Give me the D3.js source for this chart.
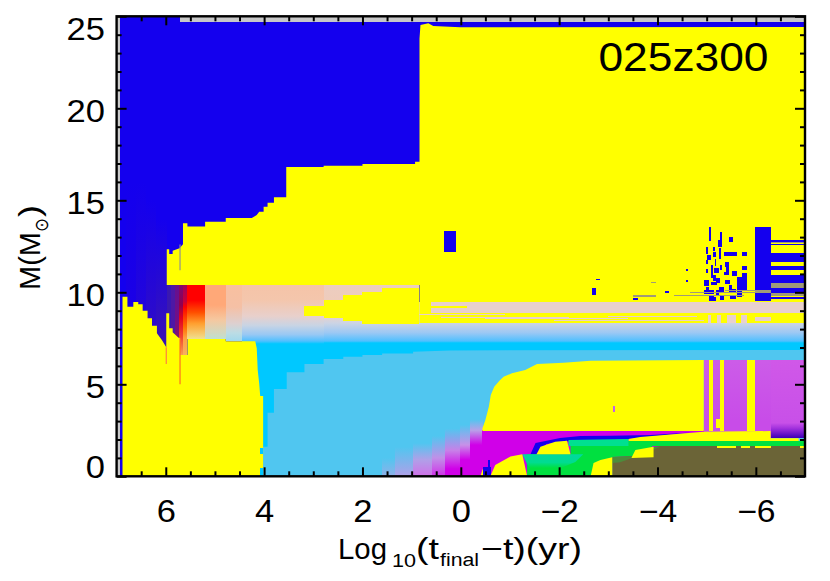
<!DOCTYPE html>
<html><head><meta charset="utf-8">
<script src="https://cdn.jsdelivr.net/npm/d3@7/dist/d3.min.js"></script>
<style>html,body{margin:0;padding:0;background:#fff}svg{display:block}text{font-family:"Liberation Sans",Arial,sans-serif;fill:#000}</style>
</head><body><svg id="c" width="830" height="581"></svg>
<script>
const xDomain=[7,-7], yDomain=[0,25];
const xMajor=[6,4,2,0,-2,-4,-6];
const xMinor=[6.5,5.5,5,4.5,3.5,3,2.5,1.5,1,0.5,-0.5,-1,-1.5,-2.5,-3,-3.5,-4.5,-5,-5.5,-6.5];
const yMajor=[0,5,10,15,20,25];
const yMinor=[1,2,3,4,6,7,8,9,11,12,13,14,16,17,18,19,21,22,23,24];
const runLabel="025z300";
const BLUE="#1400EE",YEL="#FFFF00",LB="#50C6F0",CY="#00C8FF",MAG="#D000E8",BRN="#6B6437",GRN="#00E040",TEAL="#00E090",GRY="#A09A78",PNK="#E8D0CC",PUR="#D058E8";

// vertical colour profiles: [xLeft,xRight,[[mass,colour],...]]
const envelopeCols=[
 [6.8,6.6,[[16,BLUE],[8,"#1C00E4"]]],[6.6,6.4,[[16,BLUE],[8,"#2406D8"]]],
 [6.4,6.2,[[15,BLUE],[8,"#2E0CC8"]]],[6.2,5.98,[[14,BLUE],[7,"#3A14B4"]]]];
const bandCols=[
 [5.98,5.9,[[10.4,"#3A18B0"],[7,"#3A18B0"]]],[5.9,5.82,[[10.4,"#4D18A5"],[7,"#4D18A5"]]],
 [5.82,5.74,[[10.4,"#651090"],[8.6,"#701088"],[7,"#901060"]]],
 [5.74,5.65,[[10.4,"#800870"],[9.3,"#900050"],[8.6,"#E00020"],[7.6,"#F04030"],[6.59,"#F8A050"]]],
 [5.65,5.56,[[10.4,"#A0005A"],[9.5,"#C80038"],[9.2,"#FF0000"],[8.1,"#FF7000"],[7.5,"#FFA040"],[6.59,"#F8B060"]]],
 [5.56,5.2,[[10.4,"#FF0000"],[9.58,"#FF0000"],[8.9,"#FF5000"],[8.3,"#FFA030"],[7.46,"#F0E090"]]],
 [5.2,4.78,[[10.4,"#FFA878"],[9.3,"#FFA878"],[8.5,"#F5C8A0"],[7.46,"#C0E0D0"]]],
 [4.78,4.45,[[10.4,"#F8C0A0"],[9.2,"#F5C0A5"],[8.3,"#DDD0D0"],[7.8,"#BCDCE4"],[7.33,"#A0D8EC"]]],
 [4.45,2.79,[[10.4,"#F5C4A8"],[9.6,"#F4C6AC"],[8.7,"#E8D0CC"],[8.2,"#C8D4E4"],[7.7,"#98C8F4"],[7.35,"#50C0FF"],[7.2,CY],[6.8,CY]]],
 [2.79,0.84,[[10.4,"#ECCDC0"],[9.6,"#EECCBC"],[8.7,"#E8D0CC"],[8.33,"#CCD4E4"],[7.8,"#9CC8F4"],[7.35,"#50C0FF"],[7.25,CY],[6.8,CY]]],
 [0.84,-7,[[9.5,PNK],[8.33,"#CCD4E4"],[7.8,"#9CC8F4"],[7.35,"#50C0FF"],[7.25,CY],[6.8,CY]]]];
const lilacCols=[
 [1.6,1.33,[[1,LB],[0,"#90B0E8"]]],[1.33,0.97,[[1.6,LB],[0,"#B0A0E8"]]],
 [0.97,0.58,[[1.8,LB],[0.9,"#B0A0E8"],[0,"#D070E8"]]],[0.58,0.32,[[2.2,LB],[1,"#C090E8"],[0,"#D030E8"]]],
 [0.32,0.01,[[2.6,LB],[1.4,"#C880E8"],[0.4,MAG],[0,MAG]]],[0.01,-0.19,[[2.8,LB],[1.7,"#C890E8"],[0.9,MAG],[0,MAG]]],
 [-0.19,-0.46,[[3.1,LB],[2.5,"#B8A0E8"],[1.7,MAG],[0,MAG]]]];
const purpleCols=[
 [-4.94,-6.3,[[6.32,"#CC5CE8"],[3,"#C84CE8"],[1.9,"#C84CE8"]]],
 [-6.3,-7,[[6.32,PUR],[2.9,"#C850E8"],[2.6,"#A030DC"],[2.1,"#4000B8"]]]];

// region outlines as [time,mass]
const upperYellow=[[5.98,10.4],[5.98,12.34],[5.93,12.34],[5.93,12.08],[5.86,12.08],[5.86,12.26],[5.72,12.39],[5.65,12.61],[5.65,13.75],[5.56,13.75],[5.56,13.57],[5.2,13.57],[5.2,13.84],[4.78,13.84],[4.78,14.04],[4.25,14.04],[4.15,14.2],[4.1,14.38],[4.01,14.38],[4.01,14.65],[3.93,14.65],[3.93,14.87],[3.8,14.87],[3.8,15.16],[3.55,15.16],[3.55,16.81],[2.79,16.81],[2.79,16.88],[2,16.88],[2,16.97],[0.93,16.97],[0.93,17.1],[0.84,17.1],[0.84,23.8],[0.82,24.53],[0.66,24.62],[0.56,24.47],[0.01,24.4],[-7,24.42],[-7,8.33],[0.84,8.33],[0.84,10.4]];
const lowerYellow=[[6.88,0],[6.88,9.76],[6.78,9.76],[6.78,9.22],[6.66,9.22],[6.66,9.47],[6.56,9.47],[6.56,9.35],[6.47,9.35],[6.47,9],[6.37,9],[6.37,8.59],[6.28,8.59],[6.28,8.18],[6.18,8.18],[6.18,7.77],[6.08,7.41],[5.99,7.01],[5.99,8.86],[5.93,8.86],[5.93,8.04],[5.86,8.04],[5.86,7.83],[5.74,7.53],[5.71,7.5],[5.71,6.59],[5.56,6.59],[5.56,7.46],[4.78,7.46],[4.78,7.34],[4.18,7.34],[4.15,6.96],[4.13,5.78],[4.1,5.05],[4.08,4.36],[4.02,4.36],[4.02,0]];
const lightBlue=[[4.02,0],[4.02,1.61],[3.93,1.61],[3.93,3.46],[3.8,3.46],[3.8,4.74],[3.54,4.74],[3.54,5.65],[3.18,5.65],[3.18,6.1],[2.79,6.1],[2.79,6.38],[2.39,6.38],[2.39,6.5],[2,6.5],[2,6.59],[1.6,6.59],[1.6,6.68],[0.97,6.68],[0.97,6.77],[0.21,6.84],[-7,6.87],[-7,0]];
const bigYellow=[[-0.44,2.46],[-0.44,2.61],[-0.5,3.06],[-0.57,3.78],[-0.61,4.42],[-0.68,4.87],[-0.79,5.2],[-0.87,5.41],[-1.04,5.6],[-1.31,5.78],[-1.55,6.1],[-2.09,6.17],[-2.64,6.28],[-4.94,6.32],[-4.94,2.46]];
const blueRibbon=[[-1.41,1.16],[-1.52,1.81],[-1.62,1.86],[-2.02,2.08],[-2.43,2.19],[-3.04,2.21],[-3.86,2.24],[-4.67,2.38],[-3.41,2.03],[-2.84,1.92],[-2.23,1.92],[-1.74,1.76],[-1.56,1.2]];
const greenMain=[[-1.34,1.2],[-2.23,1.2],[-2.23,1.65],[-3.89,1.65],[-3.89,1.59],[-3.51,1.1],[-3.08,1.05],[-3.08,0],[-1.35,0]];
const tealUnderHump=[[-1.25,1.2],[-2.49,1.2],[-2.33,0.78],[-2.03,0.45],[-1.39,0.45]];
const tealTop=[[-2.19,1.97],[-3.41,2.03],[-3.41,1.65],[-2.19,1.65]];
const brown=[[-3.08,0],[-3.08,1.05],[-3.51,1.1],[-3.89,1.59],[-4.06,1.65],[-7,1.65],[-7,0]];
const mossEdge=[[-3.08,1.05],[-3.51,1.1],[-3.87,1.59],[-4.06,1.61],[-3.65,1.15],[-3.24,0.77],[-3.08,0.72]];
const yellowBelt=[[-3.41,2.03],[-3.65,2.14],[-4.94,2.42],[-6.3,2.46],[-6.3,2.07],[-6.87,2.07],[-6.87,1.92],[-3.41,1.92]];
const hump1=[[-1.54,1.2],[-1.62,1.61],[-1.92,1.88],[-2.16,1.93],[-2.23,1.2]];
const hump2=[[-0.6,0],[-0.7,0.61],[-1.01,1.07],[-1.25,1.2],[-1.35,0]];
const hump3=[[-2.64,0],[-2.7,0.72],[-2.84,0.89],[-3.08,1.03],[-3.08,0]];
const hump4=[[-3.47,0.99],[-3.55,1.43],[-3.92,1.61],[-3.92,1.03]];
const sliver=[[-0.4,0],[-0.44,0.35],[-0.48,0.45],[-0.48,0]];

// solid blocks [xLeft,xRight,massTop,massBottom]
const wedgeYellow=[[3.18,2.79,9.26,8.73],[2.79,2.39,9.58,8.62],[2.39,2,9.85,8.46],[2,1.6,10.03,8.28],[1.6,0.84,10.23,8.28]];
const pinkStreaks=[[0.6,-7,9.49,9.25],[-0.13,-7,9.25,8.9],[0.6,-0.13,9.12,8.9],[0.84,-0.9,8.8,8.74],[0.4,-2.2,8.66,8.6],[-0.5,-3.4,8.6,8.54],[-1.9,-4.95,8.52,8.44],[-3,-4.8,8.72,8.66],[-5.99,-6.3,8.66,8.44],[-5.02,-5.09,8.77,8.33],[-5.22,-5.29,8.77,8.33],[-5.42,-5.59,8.77,8.33],[-5.69,-5.82,8.77,8.33]];
const yellowStripes=[[-5.04,-5.13,6.32,2.46],[-5.27,-5.35,6.32,2.46],[-5.82,-5.99,6.32,2.46],[-5.2,-5.27,3.1,2.6]];
const beltEdge=[[-5.22,-5.59,1.65,1.55],[-5.69,-5.89,1.65,1.55],[-5.99,-6.3,1.65,1.55],[-6.9,-7,1.65,1.55]];
const cyanBits=[[4.08,4.02,1.55,1.21],[4.08,4.02,0.45,0]];
const magentaFloor=[[-0.44,-4.94,2.5,0]];
const blueBlocks=[[0.35,0.1,13.33,12.17],[-5.99,-6.3,13.57,9.54],[-6.3,-7,12.84,12.76],[-6.3,-7,12.63,12.57],[-6.3,-7,12.15,11.66],[-6.3,-7,11.45,11.21],[-6.3,-7,10.94,10.5],[-6.3,-7,10.23,9.98],[-6.3,-7,9.74,9.66],
 [-0.46,-0.62,0.5,0],[-0.56,-0.6,0.89,0.5],
 [-5.04,-5.08,13.53,12.8],[-5.28,-5.31,13.29,12.48],[-5.46,-5.53,13.02,12.73],[-5.23,-5.28,12.84,12.48],[-5.35,-5.61,12.21,11.97],[-5.71,-5.83,12.17,11.95],[-4.98,-5.02,12.44,12.08],[-5.13,-5.17,12.44,12.26],[-5.25,-5.3,12.39,11.79],[-4.98,-5.02,11.75,11.54],[-5.13,-5.18,12.21,11.93],[-5.17,-5.2,11.79,11.43],[-5.38,-5.46,11.66,11.39],[-5.71,-5.83,11.44,11.21],[-5.28,-5.32,11.48,11.21],[-5.08,-5.12,11.48,10.76],[-5.4,-5.46,11.35,11.03],[-5.52,-5.61,11.17,10.9],[-5.71,-5.83,11.03,10.12],[-5.61,-5.71,10.85,9.76],[-4.94,-5.04,10.67,10.34],[-5.13,-5.18,10.94,10.63],[-5.2,-5.28,10.76,10.52],[-5.38,-5.48,10.67,10.45],[-4.16,-4.24,10.07,9.94],[-4.59,-4.63,11.25,11.14],[-4.59,-4.63,10.67,10.56],[-4.98,-5.02,11.25,11.03],[-4.94,-5.15,10.12,9.9],[-5.04,-5.15,9.8,9.54],[-5.25,-5.35,10.27,9.94],[-5.27,-5.35,9.85,9.58],[-5.45,-5.59,10.16,9.94],
 [-4.98,-5.04,10.27,10.03],[-5.08,-5.21,10.57,10.39],[-5.18,-5.25,10.12,9.85],[-5.35,-5.45,11.12,10.94],[-5.45,-5.52,10.39,10.12],[-5.01,-5.08,12.02,11.75],[-5.15,-5.25,11.3,11.03],[-5.48,-5.59,9.85,9.62],[-5.11,-5.18,9.72,9.54],
 [-2.74,-2.84,10.72,10.65],[-2.66,-2.75,10.22,9.85],[-3.65,-3.96,9.82,9.76],[-3.5,-3.6,9.69,9.58]];
const greyStreaks=[[-4.33,-5.76,9.85,9.78],[-4.67,-5.99,10,9.95],[-5.38,-5.99,10.12,10.05],[-5.99,-6.3,10.12,9.98],[-6.3,-7,12.76,12.68],[-6.3,-7,10.5,10.23],[-6.3,-7,9.98,9.8],[-3.86,-3.96,10.58,10.49],[-3.5,-3.96,9.85,9.74]];
const purpleFleck=[[-3.09,-3.14,3.82,3.51]];
const thinLines=[[5.99,7.01,6.1,"#FF8040"],[5.71,7.5,5.0,"#FF7020"],[5.71,12.6,11.2,"#909090"]];

const x=d3.scaleLinear().domain(xDomain).range([116.6,805]);
const y=d3.scaleLinear().domain(yDomain).range([476.3,16.3]);
const svg=d3.select("#c");
const defs=svg.append("defs");
const g=svg.append("g");
const line=d3.line().x(d=>x(d[0])).y(d=>y(d[1]));
function poly(pts,col){return g.append("path").attr("d",line(pts)+"Z").attr("fill",col);}
function blocks(list,col){g.selectAll(null).data(list).enter().append("rect")
 .attr("x",d=>x(d[0])).attr("width",d=>x(d[1])-x(d[0])).attr("y",d=>y(d[2])).attr("height",d=>y(d[3])-y(d[2])).attr("fill",col).attr("shape-rendering","crispEdges");}
let gid=0;
function columns(list){list.forEach(c=>{
 const id="g"+(gid++),st=c[2],top=st[0][0],bot=st[st.length-1][0];
 const lg=defs.append("linearGradient").attr("id",id).attr("gradientUnits","userSpaceOnUse").attr("x1",0).attr("x2",0).attr("y1",y(top)).attr("y2",y(bot));
 st.forEach(s=>lg.append("stop").attr("offset",(s[0]-top)/(bot-top)).attr("stop-color",s[1]));
 g.append("rect").attr("x",x(c[0])).attr("width",x(c[1])-x(c[0])).attr("y",y(top)).attr("height",y(bot)-y(top)).attr("fill",`url(#${id})`).attr("shape-rendering","crispEdges");
});}

// base
blocks([[7,-7,25,0]],BLUE);
blocks([[7,6.94,25,0],[5.71,-7,25,24.69]],"#C8C8C8");
columns(envelopeCols);
blocks([[4.45,-7,7.4,0]],CY);
columns(bandCols);
poly(lightBlue,LB);
columns(lilacCols);
blocks(magentaFloor,MAG);
columns(purpleCols);
poly(upperYellow,YEL);
blocks(wedgeYellow,YEL);
blocks(pinkStreaks,PNK);
poly(lowerYellow,YEL);
blocks(cyanBits,CY);
poly(bigYellow,YEL);
blocks(yellowStripes,YEL);
blocks(purpleFleck,"#C060F0");
poly(brown,BRN);
poly(blueRibbon,BLUE);
poly(yellowBelt,YEL);
poly(greenMain,GRN);
blocks([[-3.41,-7,1.92,1.65]],GRN);
poly(tealTop,TEAL);
const tf=defs.append("linearGradient").attr("id","tf").attr("x1",0).attr("x2",0).attr("y1",0).attr("y2",1);
tf.append("stop").attr("offset",0).attr("stop-color","#00D8A0");tf.append("stop").attr("offset",0.6).attr("stop-color","#00DC90");tf.append("stop").attr("offset",1).attr("stop-color",GRN);
poly(tealUnderHump,"url(#tf)");
poly(mossEdge,"#4C8C3C");
blocks(beltEdge,YEL);
[hump1,hump2,hump3,hump4,sliver].forEach(h=>poly(h,YEL));
blocks(blueBlocks,BLUE);
blocks(greyStreaks,GRY);
g.selectAll(null).data(thinLines).enter().append("line").attr("x1",d=>x(d[0])).attr("x2",d=>x(d[0])).attr("y1",d=>y(d[1])).attr("y2",d=>y(d[2])).attr("stroke",d=>d[3]).attr("stroke-width",1.2);

// axes
function axisSet(gen,tr,vals,size){
 const a=svg.append("g").attr("transform",tr).call(gen.tickValues(vals).tickSize(size).tickSizeOuter(0));
 a.select(".domain").remove();
 a.selectAll("line").attr("stroke","#000").attr("stroke-width",2);
 return a;
}
const f0=d3.format("d");
function labelStyle(sel){sel.attr("font-size",31).attr("fill","#000").attr("dy",0)
 .attr("lengthAdjust","spacingAndGlyphs").attr("textLength",function(){return 19.2*this.textContent.length;})
 .attr("font-family",'"Liberation Sans",Arial,sans-serif');}
const xb=axisSet(d3.axisBottom(x).tickFormat(f0),`translate(0,${y(0)})`,xMajor,-9);
xb.selectAll("text").call(labelStyle).attr("y",45.4);
axisSet(d3.axisBottom(x).tickFormat(""),`translate(0,${y(0)})`,xMinor,-5);
axisSet(d3.axisTop(x).tickFormat(""),`translate(0,${y(25)})`,xMajor,-9);
axisSet(d3.axisTop(x).tickFormat(""),`translate(0,${y(25)})`,xMinor,-5);
const yl=axisSet(d3.axisLeft(y).tickFormat(f0),`translate(${x(7)},0)`,yMajor,-10);
yl.selectAll("text").call(labelStyle).attr("text-anchor","end").attr("x",-11.6)
 .attr("y",d=>d===0?0.7:d===25?23:13.2);
axisSet(d3.axisLeft(y).tickFormat(""),`translate(${x(7)},0)`,yMinor,-5);
axisSet(d3.axisRight(y).tickFormat(""),`translate(${x(-7)},0)`,yMajor,-10);
axisSet(d3.axisRight(y).tickFormat(""),`translate(${x(-7)},0)`,yMinor,-5);
svg.append("rect").attr("x",x(7)).attr("y",y(25)).attr("width",x(-7)-x(7)).attr("height",y(0)-y(25)).attr("fill","none").attr("stroke","#000").attr("stroke-width",2.4);

// labels
svg.append("text").attr("x",x(-2.8)).attr("y",y(22.03)).attr("font-size",40).attr("textLength",170).attr("lengthAdjust","spacingAndGlyphs").text(runLabel);
const xTitle=[["Log",338,559,30,49],["10",392,567,19,24],["(t",416,559,30,23],["final",440,566,18,39],["−t)(yr)",481,559,30,101]];
svg.selectAll(null).data(xTitle).enter().append("text").attr("x",d=>d[1]).attr("y",d=>d[2]).attr("font-size",d=>d[3]).attr("textLength",d=>d[4]).attr("lengthAdjust","spacingAndGlyphs").text(d=>d[0]);
const yTitle=[["M(M",40,290,30,58,"Liberation Sans"],["⊙",48,232,19,14,"DejaVu Sans"],[")",40,217,30,12,"Liberation Sans"]];
svg.selectAll(null).data(yTitle).enter().append("text").attr("transform",d=>`translate(${d[1]},${d[2]}) rotate(-90)`).attr("font-size",d=>d[3]).attr("textLength",d=>d[4]).attr("lengthAdjust","spacingAndGlyphs").style("font-family",d=>`"${d[5]}"`).text(d=>d[0]);
</script></body></html>
